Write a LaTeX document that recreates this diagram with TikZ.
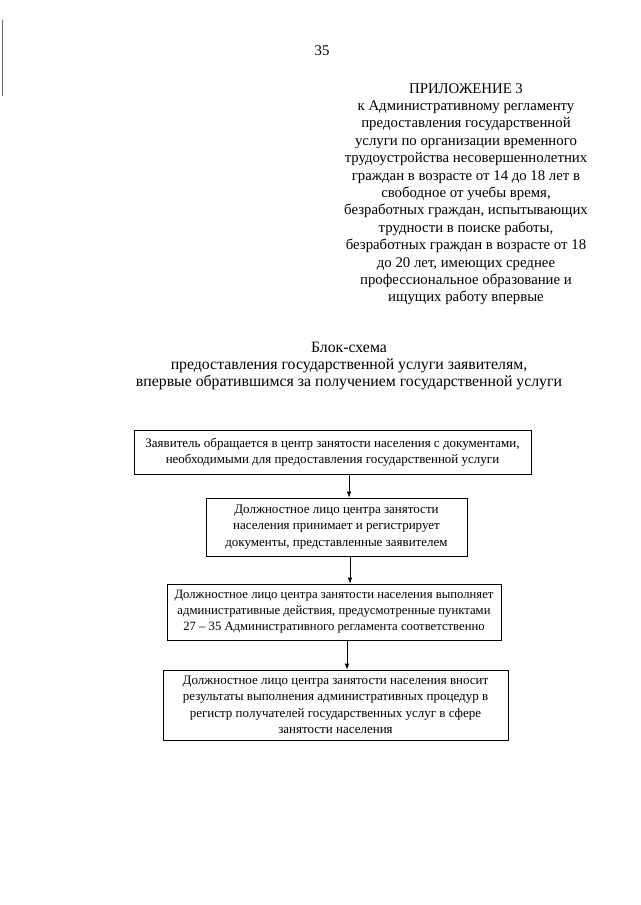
\documentclass[tikz,border=0pt]{standalone}
\usepackage{fontspec}
\setmainfont{Liberation Serif}
\usetikzlibrary{arrows.meta}
\begin{document}
\begin{tikzpicture}[x=1pt,y=-1pt,
  box/.style={draw, line width=0.7pt, align=center, inner sep=0pt,
    font=\fontsize{13}{16.5}\selectfont},
  hdr/.style={align=center, inner sep=0pt, font=\fontsize{14.8}{17.4}\selectfont},
  ttl/.style={align=center, inner sep=0pt, font=\fontsize{15.8}{17.2}\selectfont},
  flow/.style={-{Latex[length=6pt,width=4.5pt]}, line width=0.7pt}]
\useasboundingbox[fill=white] (0,0) rectangle (640,905);
\draw[line width=1pt, black!60] (2,20) -- (2,96);
\node[hdr, anchor=base] (pnum) at (322,55) {35};
\node[hdr, anchor=north] (app) at (466,83) {ПРИЛОЖЕНИЕ 3\\
к Административному регламенту\\
предоставления государственной\\
услуги по организации временного\\
трудоустройства несовершеннолетних\\
граждан в возрасте от 14 до 18 лет в\\
свободное от учебы время,\\
безработных граждан, испытывающих\\
трудности в поиске работы,\\
безработных граждан в возрасте от 18\\
до 20 лет, имеющих среднее\\
профессиональное образование и\\
ищущих работу впервые};
\node[ttl, anchor=north] (title) at (349,342) {Блок-схема\\
предоставления государственной услуги заявителям,\\
впервые обратившимся за получением государственной услуги};
\node[box, minimum width=397pt, minimum height=44pt] (b1) at (332.5,452)
  {Заявитель обращается в центр занятости населения с документами,\\
   необходимыми для предоставления государственной услуги};
\node[box, minimum width=261pt, minimum height=58pt] (b2) at (336.5,527)
  {Должностное лицо центра занятости\\
   населения принимает и регистрирует\\
   документы, представленные заявителем};
\node[box, minimum width=334pt, minimum height=56pt, font=\fontsize{12.7}{16}\selectfont] (b3) at (334,612)
  {Должностное лицо центра занятости населения выполняет\\
   административные действия, предусмотренные пунктами\\
   27 – 35 Административного регламента соответственно};
\node[box, minimum width=345pt, minimum height=70pt] (b4) at (335.5,705)
  {Должностное лицо центра занятости населения вносит\\
   результаты выполнения административных процедур в\\
   регистр получателей государственных услуг в сфере\\
   занятости населения};
\coordinate (ax1) at (349,0);
\coordinate (ax2) at (350,0);
\coordinate (ax3) at (347,0);
\draw[flow] (b1.south -| ax1) -- (b2.north -| ax1);
\draw[flow] (b2.south -| ax2) -- (b3.north -| ax2);
\draw[flow] (b3.south -| ax3) -- (b4.north -| ax3);
\end{tikzpicture}
\end{document}
